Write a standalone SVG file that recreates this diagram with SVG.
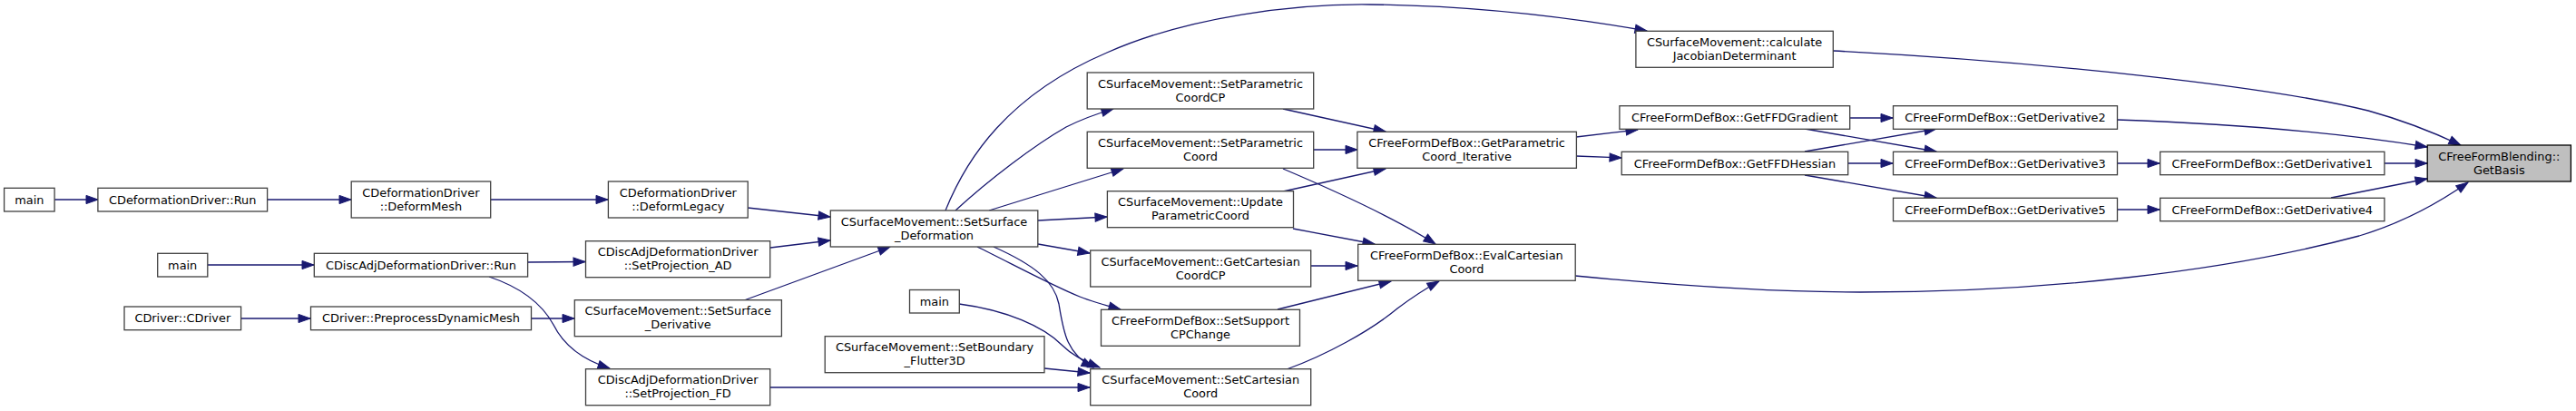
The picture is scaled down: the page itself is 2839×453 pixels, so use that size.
<svg xmlns="http://www.w3.org/2000/svg" width="2839" height="453" viewBox="0 0 2839 453">
<style>
.n rect{fill:#ffffff;stroke:#404040;stroke-width:1.3}
.n.h rect{fill:#bfbfbf;stroke:#000000}
.n text{font-family:"DejaVu Sans","Liberation Sans",sans-serif;font-size:12.9px;fill:#000000;text-anchor:middle}
#edges path{fill:none;stroke:#191970;stroke-width:1.3;marker-end:url(#ah)}
</style>
<defs>
<marker id="ah" markerWidth="14" markerHeight="10" refX="13" refY="5" orient="auto" markerUnits="userSpaceOnUse" overflow="visible">
<path d="M0,0.4 L13,5 L0,9.6 Z" fill="#191970" stroke="#191970" stroke-width="1"/>
</marker>
</defs>
<rect width="2839" height="453" fill="#ffffff"/>
<g id="edges">
<path d="M60,220 L108,220"/>
<path d="M295,220 L387,220"/>
<path d="M541,220 L670,220"/>
<path d="M824,229 L915,239"/>
<path d="M229,292 L346,292"/>
<path d="M582,289 L645,288.5"/>
<path d="M539,305 C575,317 598,336 610,358 C621,380 640,396 672,406"/>
<path d="M266,351 L342,351"/>
<path d="M586,351 L633,351"/>
<path d="M849,273 L915,265"/>
<path d="M820,331 L981,272"/>
<path d="M849,427 L1201,427"/>
<path d="M1151,406 L1201,411"/>
<path d="M1057,335 C1110,342 1150,360 1170,380 C1182,392 1196,399 1212,405"/>
<path d="M1095,272 C1140,292 1162,310 1167,335 C1172,365 1175,390 1205,405"/>
<path d="M1077,272 C1110,288 1160,315 1190,327 C1205,333 1220,337 1235,341"/>
<path d="M1144,269 L1201,279"/>
<path d="M1144,243 L1220,239"/>
<path d="M1090,232 L1238,186"/>
<path d="M1053,232 C1090,198 1140,160 1175,140 C1195,130 1210,125 1227,120"/>
<path d="M1042,232 C1065,175 1110,105 1220,58 C1310,18 1430,4 1510,5 C1600,6 1700,14 1815,34"/>
<path d="M2020,56 C2250,68 2500,95 2610,122 C2650,133 2680,145 2712,160"/>
<path d="M1414,120 L1527,145"/>
<path d="M1448,165 L1496,165"/>
<path d="M1414,211 L1527,186"/>
<path d="M1414,186 C1480,214 1540,242 1582,269"/>
<path d="M1425,252 L1515,269"/>
<path d="M1445,293 L1496,293"/>
<path d="M1408,341 L1533,310"/>
<path d="M1418,407 C1460,392 1510,365 1540,340 C1560,325 1575,316 1586,310"/>
<path d="M1736,304 C1850,315 1950,322 2050,322 C2250,322 2450,300 2600,260 C2650,245 2690,222 2720,201"/>
<path d="M1737,151 L1805,143"/>
<path d="M1737,172 L1787,174"/>
<path d="M2039,130 L2086,130"/>
<path d="M1989,142 L2134,167"/>
<path d="M1989,167 L2134,142"/>
<path d="M2037,180 L2086,180"/>
<path d="M1989,193 L2134,218"/>
<path d="M2333,132 C2450,136 2570,145 2675,162"/>
<path d="M2333,180 L2380,180"/>
<path d="M2628,180 L2675,180"/>
<path d="M2333,231 L2380,231"/>
<path d="M2569,218 L2675,197"/>
</g>
<g id="n_main1" class="n"><rect x="4.6" y="207.3" width="55.5" height="25.7"/><text x="32.3" y="224.5">main</text></g>
<g id="n_cddrun" class="n"><rect x="107.9" y="207.3" width="186.7" height="25.7"/><text x="201.2" y="224.5">CDeformationDriver::Run</text></g>
<g id="n_deformmesh" class="n"><rect x="387.2" y="200" width="153.5" height="40"/><text x="463.9" y="216.7">CDeformationDriver</text><text x="463.9" y="231.5">::DeformMesh</text></g>
<g id="n_deformlegacy" class="n"><rect x="670.4" y="200" width="153.8" height="40"/><text x="747.3" y="216.7">CDeformationDriver</text><text x="747.3" y="231.5">::DeformLegacy</text></g>
<g id="n_main2" class="n"><rect x="173.7" y="279.3" width="55.1" height="25.7"/><text x="201.2" y="296.5">main</text></g>
<g id="n_cdadrun" class="n"><rect x="346.3" y="279.3" width="235.3" height="25.7"/><text x="463.9" y="296.5">CDiscAdjDeformationDriver::Run</text></g>
<g id="n_cdriver" class="n"><rect x="137" y="338" width="128.6" height="25.7"/><text x="201.3" y="355.2">CDriver::CDriver</text></g>
<g id="n_preproc" class="n"><rect x="342.5" y="338" width="243" height="25.7"/><text x="464" y="355.2">CDriver::PreprocessDynamicMesh</text></g>
<g id="n_projad" class="n"><rect x="645.5" y="265.7" width="203.2" height="40"/><text x="747.1" y="282.4">CDiscAdjDeformationDriver</text><text x="747.1" y="297.2">::SetProjection_AD</text></g>
<g id="n_ssderiv" class="n"><rect x="633.3" y="330.7" width="228.1" height="40"/><text x="747.3" y="347.4">CSurfaceMovement::SetSurface</text><text x="747.3" y="362.2">_Derivative</text></g>
<g id="n_projfd" class="n"><rect x="645.5" y="406.7" width="203.2" height="40"/><text x="747.1" y="423.4">CDiscAdjDeformationDriver</text><text x="747.1" y="438.2">::SetProjection_FD</text></g>
<g id="n_ssdeform" class="n"><rect x="915.3" y="232" width="228.5" height="40"/><text x="1029.5" y="248.7">CSurfaceMovement::SetSurface</text><text x="1029.5" y="263.5">_Deformation</text></g>
<g id="n_main3" class="n"><rect x="1002.5" y="319.5" width="54.8" height="25.5"/><text x="1029.9" y="336.7">main</text></g>
<g id="n_flutter" class="n"><rect x="909.2" y="370.7" width="241.8" height="40"/><text x="1030.1" y="387.4">CSurfaceMovement::SetBoundary</text><text x="1030.1" y="402.2">_Flutter3D</text></g>
<g id="n_spccp" class="n"><rect x="1198.2" y="80" width="249.5" height="40"/><text x="1323" y="96.7">CSurfaceMovement::SetParametric</text><text x="1323" y="111.5">CoordCP</text></g>
<g id="n_spc" class="n"><rect x="1198.2" y="145.3" width="249.5" height="40"/><text x="1323" y="162">CSurfaceMovement::SetParametric</text><text x="1323" y="176.8">Coord</text></g>
<g id="n_upc" class="n"><rect x="1220.4" y="210.7" width="205.1" height="40"/><text x="1323" y="227.4">CSurfaceMovement::Update</text><text x="1323" y="242.2">ParametricCoord</text></g>
<g id="n_gcccp" class="n"><rect x="1201.7" y="276" width="243" height="40"/><text x="1323.2" y="292.7">CSurfaceMovement::GetCartesian</text><text x="1323.2" y="307.5">CoordCP</text></g>
<g id="n_sscp" class="n"><rect x="1213.5" y="341.3" width="219" height="40"/><text x="1323" y="358">CFreeFormDefBox::SetSupport</text><text x="1323" y="372.8">CPChange</text></g>
<g id="n_scc" class="n"><rect x="1201.7" y="406.7" width="243" height="40"/><text x="1323.2" y="423.4">CSurfaceMovement::SetCartesian</text><text x="1323.2" y="438.2">Coord</text></g>
<g id="n_gpci" class="n"><rect x="1495.9" y="145.3" width="241.5" height="40"/><text x="1616.6" y="162">CFreeFormDefBox::GetParametric</text><text x="1616.6" y="176.8">Coord_Iterative</text></g>
<g id="n_ecc" class="n"><rect x="1496.7" y="269.3" width="239.5" height="40"/><text x="1616.4" y="286">CFreeFormDefBox::EvalCartesian</text><text x="1616.4" y="300.8">Coord</text></g>
<g id="n_cjd" class="n"><rect x="1802.9" y="34.3" width="217.4" height="40"/><text x="1911.6" y="51">CSurfaceMovement::calculate</text><text x="1911.6" y="65.8">JacobianDeterminant</text></g>
<g id="n_grad" class="n"><rect x="1784.9" y="116.7" width="253.8" height="25.6"/><text x="1911.8" y="133.9">CFreeFormDefBox::GetFFDGradient</text></g>
<g id="n_hess" class="n"><rect x="1787.2" y="167.3" width="249.5" height="25.4"/><text x="1912" y="184.5">CFreeFormDefBox::GetFFDHessian</text></g>
<g id="n_d2" class="n"><rect x="2086.5" y="116.7" width="247" height="25.6"/><text x="2210" y="133.9">CFreeFormDefBox::GetDerivative2</text></g>
<g id="n_d3" class="n"><rect x="2086.5" y="167.3" width="247" height="25.4"/><text x="2210" y="184.5">CFreeFormDefBox::GetDerivative3</text></g>
<g id="n_d5" class="n"><rect x="2086.5" y="218.3" width="247" height="25.4"/><text x="2210" y="235.5">CFreeFormDefBox::GetDerivative5</text></g>
<g id="n_d1" class="n"><rect x="2380.7" y="167.3" width="247.2" height="25.4"/><text x="2504.3" y="184.5">CFreeFormDefBox::GetDerivative1</text></g>
<g id="n_d4" class="n"><rect x="2380.7" y="218.3" width="247.2" height="25.4"/><text x="2504.3" y="235.5">CFreeFormDefBox::GetDerivative4</text></g>
<g id="n_basis" class="n h"><rect x="2675.2" y="160" width="158.2" height="40"/><text x="2754.3" y="176.7">CFreeFormBlending::</text><text x="2754.3" y="191.5">GetBasis</text></g>
</svg>
